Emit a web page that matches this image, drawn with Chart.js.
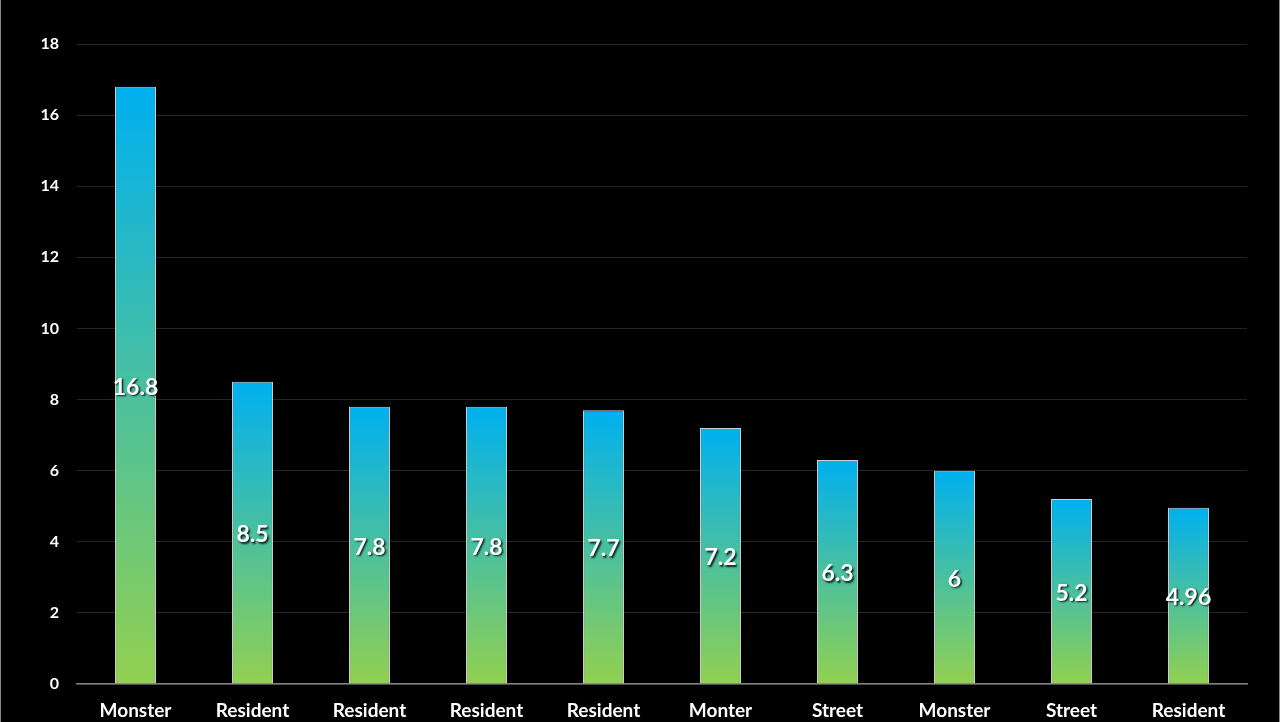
<!DOCTYPE html>
<html>
<head>
<meta charset="utf-8">
<script src="https://cdn.jsdelivr.net/npm/chart.js@4"></script>
<style>
  html, body { margin: 0; padding: 0; background: #000; }
  canvas { display: block; }
</style>
</head>
<body>
<canvas id="c" width="1280" height="722"></canvas>
<script>
const categories = ["Monster", "Resident", "Resident", "Resident", "Resident", "Monter", "Street", "Monster", "Street", "Resident"];
const values = [16.8, 8.5, 7.8, 7.8, 7.7, 7.2, 6.3, 6, 5.2, 4.96];
const yMin = 0, yMax = 18, yStep = 2;

const FONT = "Lato, 'Open Sans', sans-serif";

const barLabels = {
  id: 'barLabels',
  afterDatasetsDraw(chart) {
    const c = chart.ctx;
    const meta = chart.getDatasetMeta(0);
    c.save();
    c.font = "bold 23px " + FONT;
    c.textAlign = 'center';
    c.textBaseline = 'middle';
    meta.data.forEach((el, i) => {
      const x = el.x, y = (el.y + el.base) / 2 + 2;
      c.shadowColor = 'rgba(0,0,0,0.85)';
      c.shadowOffsetX = 1.5;
      c.shadowOffsetY = 1.5;
      c.shadowBlur = 2;
      c.fillStyle = '#ffffff';
      c.fillText(String(values[i]), x, y);
    });
    c.restore();
  }
};

const frame = {
  id: 'frame',
  beforeDraw(chart) {
    const c = chart.ctx;
    c.save();
    c.fillStyle = '#000';
    c.fillRect(0, 0, chart.width, chart.height);
    c.restore();
  },
  afterDraw(chart) {
    const c = chart.ctx;
    c.save();
    c.strokeStyle = '#8a8a8a';
    c.lineWidth = 1;
    c.beginPath();
    c.moveTo(0.5, 0); c.lineTo(0.5, chart.height);
    c.moveTo(chart.width - 0.5, 0); c.lineTo(chart.width - 0.5, chart.height);
    c.stroke();
    c.restore();
  }
};

new Chart(document.getElementById('c'), {
  type: 'bar',
  data: {
    labels: categories,
    datasets: [{
      data: values,
      backgroundColor: (ctx) => {
        const chart = ctx.chart;
        const area = chart.chartArea;
        if (!area || ctx.raw === undefined) return '#00B0F0';
        const y = chart.scales.y;
        const top = y.getPixelForValue(ctx.raw);
        const bot = y.getPixelForValue(0);
        const g = chart.ctx.createLinearGradient(0, top, 0, bot);
        g.addColorStop(0, '#00B0F0');
        g.addColorStop(1, '#92D050');
        return g;
      },
      borderColor: '#d0d0d0',
      borderWidth: 1,
      barPercentage: 0.35,
      categoryPercentage: 1.0
    }]
  },
  options: {
    responsive: false,
    animation: false,
    layout: { padding: { top: 44, right: 33, left: 0, bottom: 0 } },
    plugins: {
      legend: { display: false },
      tooltip: { enabled: false }
    },
    scales: {
      x: {
        grid: { display: false, drawTicks: false },
        border: { display: true, color: '#7f7f7f', width: 1.5 },
        ticks: {
          color: '#ffffff',
          font: { family: FONT, weight: 'bold', size: 19 },
          padding: 15,
          maxRotation: 0,
          autoSkip: false
        },
        afterFit(scale) { scale.height = 38; }
      },
      y: {
        min: yMin,
        max: yMax,
        grid: { color: '#262626', lineWidth: 1, drawTicks: false },
        border: { display: false },
        ticks: {
          stepSize: yStep,
          color: '#ffffff',
          font: { family: FONT, weight: 'bold', size: 16 },
          padding: 18
        },
        afterFit(scale) { scale.width = 77; }
      }
    }
  },
  plugins: [barLabels, frame]
});
</script>
</body>
</html>
